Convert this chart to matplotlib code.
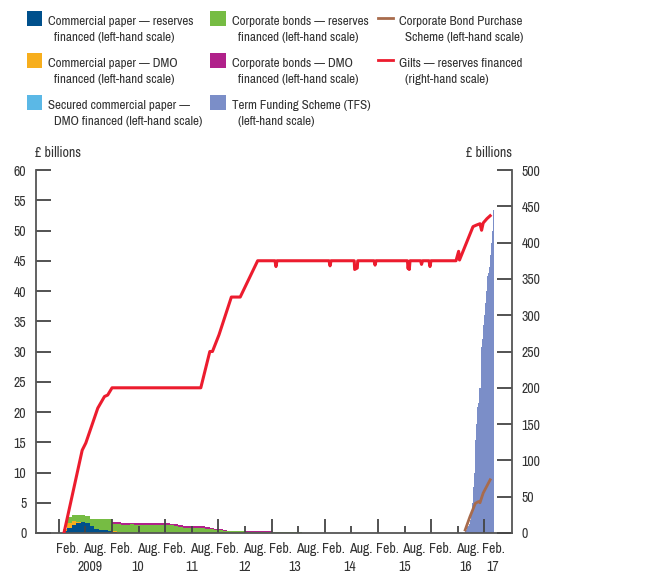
import numpy as np
import pandas as pd
import matplotlib
matplotlib.use('Agg')
import matplotlib.pyplot as plt
from matplotlib import font_manager as fm
from matplotlib.patches import Patch, Rectangle
from matplotlib.lines import Line2D
from matplotlib.legend_handler import HandlerBase

# narrow face if one is installed, otherwise Lato
narrow = sorted({f.name for f in fm.fontManager.ttflist
                 if ('Narrow' in f.name or 'Condensed' in f.name)})
family = narrow[0] if narrow else 'Lato'
fs = 10 if narrow else 9.2
lfs = 9.4 if narrow else 8.8
plt.rcParams['font.family'] = [family, 'DejaVu Sans']
plt.rcParams['font.size'] = fs

# colours
c_cp_res = '#00508C'
c_cp_dmo = '#F7AE1D'
c_scp = '#5BB8E6'
c_cb_res = '#76BC43'
c_cb_dmo = '#B0218A'
c_tfs = '#7B8EC8'
c_cbps = '#A86B4C'
c_gilts = '#EC1C2E'
txt = '#333333'

# ---- data (£ billions) ----
# monthly asset purchase stocks, Feb 2009 to Aug 2013 (left-hand scale)
month_start = '2009-02-01'
month_end = '2013-08-01'
cp_reserves = [0.3, 0.9, 1.4, 1.6, 1.8, 1.7, 1.1, 0.7, 0.55, 0.5, 0.3, 0.1]
cp_dmo = [0.3, 0.7, 0.6, 0.2, 0.05, 0, 0, 0, 0, 0, 0, 0.2, 0.1]
scp_dmo = [0, 0, 0, 0, 0, 0, 0, 0, 0.02, 0.03, 0.03, 0.02]
cb_reserves = [0.0, 1.0, 0.9, 1.15, 1.15, 1.15, 1.2, 1.65, 1.8, 1.85, 2.05,
               1.25, 1.4, 1.35, 1.4, 1.45, 1.4, 1.4, 1.38, 1.4, 1.4, 1.35, 1.35,
               1.3, 1.25, 1.1, 1.0, 0.83, 0.83, 0.83, 0.83, 0.8, 0.7, 0.6, 0.5,
               0.5, 0.32, 0.28, 0.28, 0.28, 0.28, 0.17, 0.17, 0.17, 0.17, 0.17, 0.17,
               0.1, 0.1, 0.1, 0.1, 0.2, 0.2, 0.2, 0.0]
cb_dmo = [0, 0, 0, 0, 0, 0, 0, 0, 0, 0, 0,
          0.2, 0.25, 0.25, 0.25, 0.25, 0.25, 0.25, 0.25, 0.25, 0.25, 0.25, 0.25,
          0.3, 0.3, 0.4, 0.38, 0.37, 0.37, 0.37, 0.37, 0.3, 0.3, 0.23, 0.2,
          0.16, 0.13, 0.11, 0.11, 0.11, 0.11, 0.11, 0.11, 0.11, 0.11, 0.11, 0.11,
          0.1, 0.1, 0.1, 0.1, 0, 0, 0, 0]

# Term Funding Scheme, weekly from Aug 2016 (left-hand scale)
tfs_start = '2016-08-22'
tfs = [0.3, 0.5, 1.0, 1.2, 1.5, 2.1, 3.0, 5.0, 7.6, 10.0, 15.4, 18.0, 20.9, 21.5,
       24.0, 30.8, 32.0, 34.4, 36.0, 38.0, 40.0, 42.4, 43.0, 44.0, 46.0, 47.9, 50.0, 53.4]

# Corporate Bond Purchase Scheme (left-hand scale)
cbps_dates = ['2016-08-22', '2016-09-24', '2016-10-31', '2016-11-22', '2016-12-02',
              '2016-12-24', '2017-02-10']
cbps = [0.5, 2.7, 4.9, 5.2, 5.0, 6.6, 8.8]

# Gilts (right-hand scale)
gilt_dates = ['2009-02-05', '2009-06-10', '2009-07-05', '2009-09-25', '2009-11-10',
              '2009-12-02', '2010-01-01', '2011-09-02', '2011-11-03', '2011-11-21',
              '2012-01-05', '2012-03-30', '2012-05-30', '2012-09-27',
              '2013-01-24', '2013-01-31', '2013-02-07',
              '2014-01-30', '2014-02-06', '2014-02-13',
              '2014-07-22', '2014-07-25', '2014-08-12', '2014-08-15',
              '2014-12-05', '2014-12-12', '2014-12-19',
              '2015-07-22', '2015-07-27', '2015-07-31', '2015-08-04', '2015-08-09',
              '2015-10-20', '2015-10-27', '2015-11-03',
              '2015-12-17', '2015-12-24', '2015-12-31',
              '2016-06-20', '2016-07-08', '2016-07-14', '2016-10-15', '2016-11-06',
              '2016-12-02', '2016-12-13', '2016-12-24', '2017-01-19', '2017-02-10']
gilts = [0, 114, 124, 172, 188, 190, 200, 200, 250, 250, 273, 325, 325, 375,
         375, 367, 375,
         375, 368, 375,
         375, 363, 365, 375,
         375, 369, 375,
         375, 364, 372, 363, 375,
         375, 370, 375,
         375, 367, 375,
         375, 388, 376, 422, 424, 426, 417, 427, 433, 437]

years = [2009, 2010, 2011, 2012, 2013, 2014, 2015, 2016, 2017]
year_labels = ['2009', '10', '11', '12', '13', '14', '15', '16', '17']
year_label_x = [2009.58, 2010.48, 2011.5, 2012.5, 2013.44, 2014.46, 2015.5, 2016.65, 2017.15]


def dec(d):
    t = pd.Timestamp(d)
    n = 366 if t.is_leap_year else 365
    return t.year + (t.dayofyear - 1) / n


def pad(v, n):
    return np.array(list(v) + [0] * (n - len(v)), dtype=float)


class HandleUp(HandlerBase):
    # put the key level with the first line of a two-line label
    def create_artists(self, legend, orig, xd, yd, w, h, fontsize, trans):
        up = 0.85 * fontsize
        if isinstance(orig, Line2D):
            a = Line2D([-xd, -xd + w], [-yd + h / 2 + up] * 2,
                       color=orig.get_color(), lw=orig.get_linewidth())
        else:
            a = Rectangle((-xd, -yd + up - 0.1 * h), w, 1.15 * h,
                          facecolor=orig.get_facecolor(), lw=0)
        a.set_transform(trans)
        return [a]


months = pd.date_range(month_start, month_end, freq='MS')
mx = np.array([dec(m) for m in months])
n = len(mx)
stack = [pad(cp_reserves, n), pad(cp_dmo, n), pad(scp_dmo, n),
         pad(cb_reserves, n), pad(cb_dmo, n)]
cols = [c_cp_res, c_cp_dmo, c_scp, c_cb_res, c_cb_dmo]

fig = plt.figure(figsize=(6.7, 5.75), dpi=100)
ax = fig.add_axes([36 / 670, 42 / 575, 476 / 670, 363 / 575])
ax2 = ax.twinx()

base = np.zeros(n)
for vals, c in zip(stack, cols):
    ax.fill_between(mx, base, base + vals, step='post', color=c, linewidth=0)
    base = base + vals

tx = dec(tfs_start) + np.arange(len(tfs)) / 52.0
ax.bar(tx, tfs, width=1 / 52.0, align='edge', color=c_tfs, linewidth=0)

ax.plot([dec(d) for d in cbps_dates], cbps, color=c_cbps, lw=2)
ax2.plot([dec(d) for d in gilt_dates], gilts, color=c_gilts, lw=2.2)

ax.set_xlim(2008.57, 2017.52)
ax.set_ylim(0, 60)
ax2.set_ylim(0, 500)
ax.set_yticks(np.arange(0, 61, 5))
ax2.set_yticks(np.arange(0, 501, 50))
ax.set_xticks(years)
ax.set_xticks([y + 0.5 for y in years[:-1]], minor=True)

for s in ['top', 'right']:
    ax.spines[s].set_visible(False)
for s in ['top', 'left', 'bottom']:
    ax2.spines[s].set_visible(False)
for a in (ax, ax2):
    for s in a.spines.values():
        s.set_color('#555555')
        s.set_linewidth(1.3)

ax.tick_params(axis='y', direction='in', length=11, width=1.3, color='#444444',
               labelcolor=txt, labelsize=fs, pad=7)
ax2.tick_params(axis='y', direction='in', length=11, width=1.3, color='#444444',
                labelcolor=txt, labelsize=fs, pad=7)
ax.tick_params(axis='x', which='major', direction='in', length=10, width=1.3,
               color='#444444', labelbottom=False)
ax.tick_params(axis='x', which='minor', direction='in', length=5, width=1.3,
               color='#444444')

# month / year labels under the axis
for y in years:
    ax.annotate('Feb.', xy=(y + 0.17, 0), xycoords=('data', 'axes fraction'),
                xytext=(0, -11.5), textcoords='offset points', ha='center',
                va='center', color=txt, fontsize=fs)
    if y < 2017:
        ax.annotate('Aug.', xy=(y + 0.68, 0), xycoords=('data', 'axes fraction'),
                    xytext=(0, -11.5), textcoords='offset points', ha='center',
                    va='center', color=txt, fontsize=fs)
for lab, x in zip(year_labels, year_label_x):
    ax.annotate(lab, xy=(x, 0), xycoords=('data', 'axes fraction'),
                xytext=(0, -24.5), textcoords='offset points', ha='center',
                va='center', color=txt, fontsize=fs)

fig.text(35 / 670, 1 - 153 / 575, '£ billions', ha='left', va='center',
         color=txt, fontsize=fs)
fig.text(512 / 670, 1 - 153 / 575, '£ billions', ha='right', va='center',
         color=txt, fontsize=fs)

handles = [Patch(color=c_cp_res), Patch(color=c_cp_dmo), Patch(color=c_scp),
           Patch(color=c_cb_res), Patch(color=c_cb_dmo), Patch(color=c_tfs),
           Line2D([], [], color=c_cbps, lw=2), Line2D([], [], color=c_gilts, lw=2)]
labels = ['Commercial paper — reserves\n  financed (left-hand scale)',
          'Commercial paper — DMO\n  financed (left-hand scale)',
          'Secured commercial paper —\n  DMO financed (left-hand scale)',
          'Corporate bonds — reserves\n  financed (left-hand scale)',
          'Corporate bonds — DMO\n  financed (left-hand scale)',
          'Term Funding Scheme (TFS)\n  (left-hand scale)',
          'Corporate Bond Purchase\n  Scheme (left-hand scale)',
          'Gilts — reserves financed\n  (right-hand scale)']
hup = HandleUp()
leg = fig.legend(handles, labels, loc='upper left', bbox_to_anchor=(27 / 670, 1 - 16 / 575),
                 ncol=3, frameon=False, fontsize=lfs, handlelength=11 / lfs,
                 handleheight=11 / lfs, handletextpad=0.45, columnspacing=0.6,
                 labelspacing=1.15, borderpad=0, borderaxespad=0,
                 handler_map={Patch: hup, Line2D: hup})
for t in leg.get_texts():
    t.set_color(txt)
    t.set_linespacing(1.55)

fig.savefig('out.png', dpi=100)
